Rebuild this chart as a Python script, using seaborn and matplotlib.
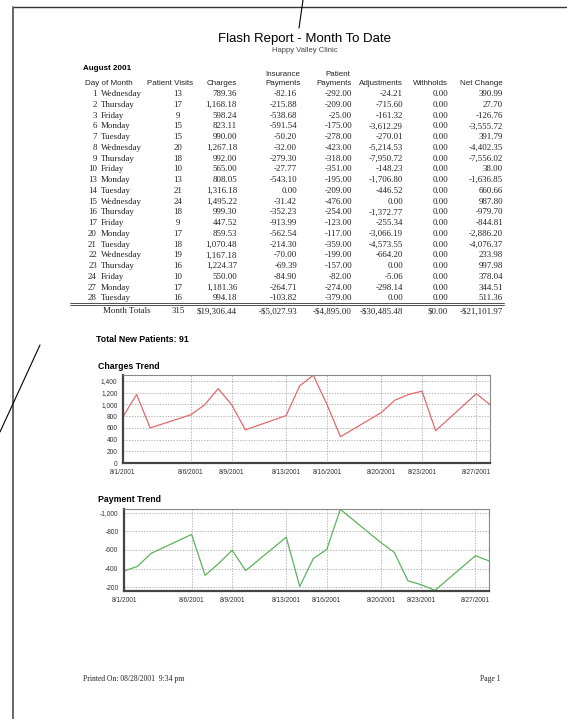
import matplotlib
matplotlib.use("Agg")
import matplotlib.pyplot as plt
import matplotlib.dates as mdates
from matplotlib.ticker import FuncFormatter, FixedLocator
import seaborn as sns
import pandas as pd

# ---------------- data ----------------
days = [1, 2, 3, 6, 7, 8, 9, 10, 13, 14, 15, 16, 17, 20, 21, 22, 23, 24, 27, 28]
weekdays = ["Wednesday", "Thursday", "Friday", "Monday", "Tuesday", "Wednesday", "Thursday",
            "Friday", "Monday", "Tuesday", "Wednesday", "Thursday", "Friday", "Monday",
            "Tuesday", "Wednesday", "Thursday", "Friday", "Monday", "Tuesday"]
visits = [13, 17, 9, 15, 15, 20, 18, 10, 13, 21, 24, 18, 9, 17, 18, 19, 16, 10, 17, 16]
charges = [789.36, 1168.18, 598.24, 823.11, 990.00, 1267.18, 992.00, 565.00, 808.05, 1316.18,
           1495.22, 999.30, 447.52, 859.53, 1070.48, 1167.18, 1224.37, 550.00, 1181.36, 994.18]
insurance = [-82.16, -215.88, -538.68, -591.54, -50.20, -32.00, -279.30, -27.77, -543.10, 0.00,
             -31.42, -352.23, -913.99, -562.54, -214.30, -70.00, -69.39, -84.90, -264.71, -103.82]
patient_pay = [-292.00, -209.00, -25.00, -175.00, -278.00, -423.00, -318.00, -351.00, -195.00,
               -209.00, -476.00, -254.00, -123.00, -117.00, -359.00, -199.00, -157.00, -82.00,
               -274.00, -379.00]
adjustments = [-24.21, -715.60, -161.32, -3612.29, -270.01, -5214.53, -7950.72, -148.23,
               -1706.80, -446.52, 0.00, -1372.77, -255.34, -3066.19, -4573.55, -664.20, 0.00,
               -5.06, -298.14, 0.00]
withholds = [0.00] * 20
net_change = [390.99, 27.70, -126.76, -3555.72, 391.79, -4402.35, -7556.02, 38.00, -1636.85,
              660.66, 987.80, -979.70, -844.81, -2886.20, -4076.37, 233.98, 997.98, 378.04,
              344.51, 511.36]
totals = ["315", "$19,306.44", "-$5,027.93", "-$4,895.00", "-$30,485.48", "$0.00", "-$21,101.97"]
payments = [-374.16, -424.88, -563.68, -766.54, -328.20, -455.00, -597.30, -378.77, -738.10,
            -209.00, -507.42, -606.23, -1036.99, -679.54, -573.30, -269.00, -226.39, -166.90,
            -538.71, -482.82]
tick_days = [1, 6, 9, 13, 16, 20, 23, 27]
new_patients = 91

# ---------------- figure ----------------
W, H = 567, 719
sns.set_style("white")
plt.rcParams["font.family"] = ["Liberation Sans", "DejaVu Sans"]
fig = plt.figure(figsize=(W / 100, H / 100), dpi=100)
fig.patch.set_facecolor("white")
page = fig.add_axes([0, 0, 1, 1])
page.set_xlim(0, W)
page.set_ylim(H, 0)
page.axis("off")

SANS = ["Liberation Sans", "DejaVu Sans"]
SERIF = ["Liberation Serif", "DejaVu Serif"]


def T(x, y, s, fontsize=6.4, **kw):
    # y is the visual centre of the text line; place by baseline for stable alignment
    kw.setdefault("family", SANS)
    kw.setdefault("color", "#222222")
    page.text(x, y + fontsize * 0.48, s, va="baseline", fontsize=fontsize, **kw)


# page border and stray lines
page.plot([13, W], [7, 7], color="#333333", lw=1.0)
page.plot([13, 13], [7, H], color="#666666", lw=1.4)
page.plot([303, 299], [0, 28], color="black", lw=0.8)
page.plot([40, 0], [345, 432], color="black", lw=0.8)

# titles
T(305, 37, "Flash Report - Month To Date", ha="center", fontsize=9.5, color="black")
T(305, 49, "Happy Valley Clinic", ha="center", fontsize=5.5, color="#444444")

# table header
T(83, 67, "August 2001", fontsize=5.8, fontweight="bold", color="black")
hy1, hy2 = 73, 82
T(85, hy2, "Day of Month", fontsize=5.8)
T(193, hy2, "Patient Visits", ha="right", fontsize=5.8)
T(237, hy2, "Charges", ha="right", fontsize=5.8)
T(283, hy1, "Insurance", ha="center", fontsize=5.8)
T(283, hy2, "Payments", ha="center", fontsize=5.8)
T(338, hy1, "Patient", ha="center", fontsize=5.8)
T(352, hy2, "Payments", ha="right", fontsize=5.8)
T(403, hy2, "Adjustments", ha="right", fontsize=5.8)
T(448, hy2, "Withholds", ha="right", fontsize=5.8)
T(503, hy2, "Net Change", ha="right", fontsize=5.8)


def money(v):
    return f"{v:,.2f}"


y0, dy = 93, 10.75
col_right = [237, 297, 352, 403, 448, 503]
for i, d in enumerate(days):
    y = y0 + i * dy
    T(97, y, str(d), ha="right", family=SERIF)
    T(101, y, weekdays[i], ha="left", family=SERIF)
    T(178, y, str(visits[i]), ha="center", family=SERIF)
    vals = [charges[i], insurance[i], patient_pay[i], adjustments[i], withholds[i], net_change[i]]
    for xr, v in zip(col_right, vals):
        T(xr, y, money(v), ha="right", family=SERIF)

ly = y0 + 19 * dy + 6
page.plot([70, 504], [ly, ly], color="#333333", lw=0.6)
page.plot([70, 504], [ly + 1.5, ly + 1.5], color="#333333", lw=0.6)
yt = ly + 7
T(103, yt, "Month Totals", ha="left", family=SERIF)
T(178, yt, totals[0], ha="center", family=SERIF)
for xr, s in zip(col_right, totals[1:]):
    T(xr, yt, s, ha="right", family=SERIF)

T(96, 339, f"Total New Patients: {new_patients}", fontsize=6.3, fontweight="bold", color="black")
T(98, 366, "Charges Trend", fontsize=6.3, fontweight="bold", color="black")
T(98, 499, "Payment Trend", fontsize=6.3, fontweight="bold", color="black")
T(83, 678, "Printed On: 08/28/2001  9:34 pm", fontsize=5.5, family=SERIF)
T(500, 678, "Page 1", ha="right", fontsize=5.5, family=SERIF)

# ---------------- charts ----------------
dates = pd.to_datetime([f"2001-08-{d:02d}" for d in days])
tick_dates = pd.to_datetime([f"2001-08-{d:02d}" for d in tick_days])
tick_labels = [f"8/{d}/2001" for d in tick_days]
df = pd.DataFrame({"date": dates, "charges": charges, "payments": payments})


def ax_at(l, t, r, b):
    return fig.add_axes([l / W, 1 - b / H, (r - l) / W, (b - t) / H])


def style(ax, yticks):
    ax.set_xlim(dates[0], dates[-1])
    ax.xaxis.set_major_locator(FixedLocator(mdates.date2num(tick_dates)))
    ax.set_xticklabels(tick_labels)
    ax.xaxis.set_minor_locator(mdates.DayLocator())
    ax.yaxis.set_major_locator(FixedLocator(yticks))
    ax.yaxis.set_major_formatter(FuncFormatter(lambda v, p: f"{v:,.0f}"))
    ax.grid(True, which="major", ls=(0, (2, 2)), color="#9a9a9a", lw=0.5)
    ax.tick_params(axis="both", which="major", labelsize=4.8, length=2, pad=2,
                   colors="#333333", width=0.6)
    ax.tick_params(axis="x", which="minor", length=1.2, width=0.4, colors="#555555")
    for s in ["left", "bottom"]:
        ax.spines[s].set_color("#444444")
        ax.spines[s].set_linewidth(1.6)
    for s in ["top", "right"]:
        ax.spines[s].set_color("#888888")
        ax.spines[s].set_linewidth(0.8)
    ax.set_xlabel("")
    ax.set_ylabel("")
    ax.set_facecolor("white")


ax1 = ax_at(123, 375, 490, 463)
sns.lineplot(data=df, x="date", y="charges", ax=ax1, color="#e06a6a", lw=0.9)
ax1.set_ylim(0, 1500)
style(ax1, [0, 200, 400, 600, 800, 1000, 1200, 1400])

ax2 = ax_at(124, 509, 489, 591)
sns.lineplot(data=df, x="date", y="payments", ax=ax2, color="#5cb35c", lw=0.9)
ax2.set_ylim(-160, -1040)
style(ax2, [-1000, -800, -600, -400, -200])

fig.savefig("out.png", dpi=100, facecolor="white")
